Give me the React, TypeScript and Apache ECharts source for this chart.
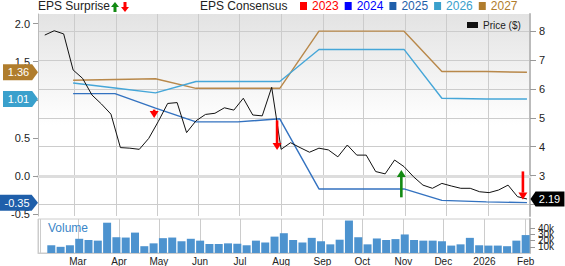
import React, { useEffect, useRef } from 'react';
import * as echarts from 'echarts';

const FONT = '"Liberation Sans", Arial, sans-serif';
const MONTHS = ['Jan', 'Feb', 'Mar', 'Apr', 'May', 'Jun', 'Jul', 'Aug', 'Sep', 'Oct', 'Nov', 'Dec'];

const toTime = (s: string) => {
  const [y, m, d] = s.split('-').map(Number);
  return new Date(y, m - 1, d).getTime();
};
const weekly = (start: string, n: number) => {
  const t0 = new Date(toTime(start));
  return Array.from({ length: n }, (_, i) => {
    const d = new Date(t0.getTime());
    d.setDate(d.getDate() + 7 * i);
    return d.getTime();
  });
};

// ---- data ----
const xMin = '2025-02-02';
const xMax = '2026-02-01';

const priceStart = '2025-02-07';
const priceValues = [
  7.87, 8.02, 7.91, 6.66, 6.37, 5.79, 5.48, 5.13, 3.97, 3.95, 3.91, 4.29, 4.87, 5.5, 5.53, 4.49,
  4.9, 5.12, 5.16, 5.35, 5.27, 5.68, 5.1, 5.07, 6.06, 3.91, 4.14, 3.97, 3.81, 3.95, 3.89, 3.65,
  4.06, 3.71, 3.71, 3.14, 3.06, 3.54, 3.31, 2.96, 2.67, 2.56, 2.73, 2.64, 2.56, 2.56, 2.44, 2.41,
  2.5, 2.67, 2.27, 2.19,
];

const volumeStart = '2025-02-09';
const volumeValues = [
  12500, 10000, 12500, 23000, 21000, 20000, 49000, 25500, 25000, 33000, 11000, 15600, 24000,
  25000, 19000, 23000, 20000, 14600, 14600, 15600, 15000, 12500, 20000, 17000, 26500, 32000,
  21000, 17000, 24500, 19000, 14000, 21500, 52500, 25500, 14000, 23500, 21000, 22500, 30000,
  21000, 20000, 20000, 19000, 12000, 14000, 24500, 12500, 12000, 12000, 11000, 20000, 29000,
];

const consensusDates = [
  '2025-02-28', '2025-03-31', '2025-04-30', '2025-05-30', '2025-06-30', '2025-07-31',
  '2025-08-29', '2025-09-30', '2025-10-31', '2025-11-28', '2025-12-31', '2026-01-30',
];
const eps2025 = [1.08, 1.08, 0.89, 0.71, 0.71, 0.75, -0.17, -0.17, -0.17, -0.32, -0.34, -0.35];
const eps2026 = [1.22, 1.155, 1.09, 1.24, 1.24, 1.24, 1.66, 1.66, 1.66, 1.02, 1.01, 1.01];
const eps2027 = [1.255, 1.265, 1.275, 1.15, 1.15, 1.15, 1.9, 1.9, 1.9, 1.37, 1.37, 1.36];

const missDates = ['2025-04-29', '2025-07-29', '2026-01-27'];
const missFrom = [0.87, 0.73, 0.06];
const missTo = [0.76, 0.34, -0.31];
const beatDates = ['2025-10-29'];
const beatFrom = [-0.28];
const beatTo = [0.08];

const epsTicks = [-0.5, 0, 0.5, 1, 1.5, 2];
const priceTicks = [2, 3, 4, 5, 6, 7, 8];
const priceLabelTicks = [3, 4, 5, 6, 7, 8];
const volumeTicks = [0, 10000, 20000, 30000, 40000, 50000];
const yearNames = ['2023', '2024', '2025', '2026', '2027'];
const yearColors = ['#ff0000', '#0000ff', '#1f5faa', '#3aa0cc', '#b07d2d'];
const lineColors = { '2025': '#3372c0', '2026': '#45a6d8', '2027': '#b8884a' };

export default function App() {
  const ref = useRef<HTMLDivElement>(null);

  useEffect(() => {
    document.body.style.margin = '0';
    if (!ref.current) return;
    const chart = echarts.init(ref.current, undefined, { renderer: 'svg' });

    const priceDates = weekly(priceStart, priceValues.length);
    const volumeDates = weekly(volumeStart, volumeValues.length);
    const cDates = consensusDates.map(toTime);
    const minT = toTime(xMin);
    const maxT = toTime(xMax);

    const leftBadge = (value: number, color: string, w: number) => ({
      symbol: 'path://M0,0H30L36,8L30,16H0Z',
      symbolSize: [w, 16],
      silent: true,
      label: {
        show: true,
        position: 'inside',
        offset: [-2, 0],
        color: '#fff',
        fontSize: 11,
        fontFamily: FONT,
        formatter: () => value.toFixed(2),
      },
      itemStyle: { color },
      data: [{ coord: [minT, value], symbolOffset: [-w / 2, 0] }],
    });

    const consensusSeries = (name: string, values: number[], badgeW: number, badgeColor: string) => ({
      name,
      type: 'line',
      xAxisIndex: 0,
      yAxisIndex: 0,
      symbol: 'none',
      clip: false,
      z: 3,
      data: cDates.map((t, i) => [t, values[i]]),
      lineStyle: { color: (lineColors as any)[name], width: 1.4 },
      itemStyle: { color: yearColors[yearNames.indexOf(name)] },
      markPoint: leftBadge(values[values.length - 1], badgeColor, badgeW),
    });

    const arrowRender = (params: any, api: any) => {
      const x = api.value(0);
      const p0 = api.coord([x, api.value(1)]);
      const p1 = api.coord([x, api.value(2)]);
      const dir = p1[1] > p0[1] ? 1 : -1;
      const head = 7;
      const hw = 4.5;
      const color = api.visual('color');
      return {
        type: 'group',
        children: [
          {
            type: 'line',
            shape: { x1: p0[0], y1: p0[1], x2: p1[0], y2: p1[1] - dir * head },
            style: { stroke: color, lineWidth: 2.6 },
          },
          {
            type: 'polygon',
            shape: {
              points: [
                [p1[0] - hw, p1[1] - dir * head],
                [p1[0] + hw, p1[1] - dir * head],
                [p1[0], p1[1]],
              ],
            },
            style: { fill: color },
          },
        ],
      };
    };

    const option: any = {
      animation: false,
      textStyle: { fontFamily: FONT },
      title: [
        {
          text: 'EPS Surprise',
          left: 38,
          top: 0,
          padding: 0,
          textStyle: { fontSize: 12, fontWeight: 'normal', color: '#222', fontFamily: FONT },
        },
        {
          text: 'EPS Consensus',
          left: 200,
          top: 0,
          padding: 0,
          textStyle: { fontSize: 12, fontWeight: 'normal', color: '#222', fontFamily: FONT },
        },
        {
          text: 'Volume',
          left: 48,
          top: 222,
          padding: 0,
          textStyle: { fontSize: 12, fontWeight: 'normal', color: '#3a86c8', fontFamily: FONT },
        },
      ],
      legend: [
        {
          left: 111,
          top: 2,
          padding: 0,
          itemGap: 2,
          itemWidth: 8,
          itemHeight: 10,
          selectedMode: false,
          formatter: () => '',
          data: [
            { name: 'Beat', icon: 'path://M4,0L8,5H5.5V10H2.5V5H0Z' },
            { name: 'Miss', icon: 'path://M2.5,0H5.5V5H8L4,10L0,5H2.5Z' },
          ],
        },
        {
          left: 300,
          top: 0,
          padding: 0,
          itemGap: 6,
          itemWidth: 7,
          itemHeight: 8,
          selectedMode: false,
          icon: 'rect',
          textStyle: { fontSize: 12, fontFamily: FONT },
          data: yearNames.map((n, i) => ({ name: n, textStyle: { color: yearColors[i] } })),
        },
        {
          left: 467,
          top: 20,
          padding: 0,
          itemWidth: 11,
          itemHeight: 6,
          selectedMode: false,
          icon: 'rect',
          textStyle: { fontSize: 10, color: '#222', fontFamily: FONT },
          data: ['Price ($)'],
        },
      ],
      grid: [
        {
          left: 38,
          top: 14,
          width: 492,
          height: 202,
          show: true,
          borderWidth: 0,
          backgroundColor: new echarts.graphic.LinearGradient(0, 0, 0, 1, [
            { offset: 0, color: '#e3e3e3' },
            { offset: 0.55, color: '#ffffff' },
            { offset: 1, color: '#ffffff' },
          ]),
        },
        {
          left: 38,
          top: 219,
          width: 492,
          height: 35,
          show: true,
          borderColor: '#cccccc',
          borderWidth: 1,
          backgroundColor: '#ffffff',
        },
      ],
      xAxis: [
        {
          type: 'time',
          gridIndex: 0,
          min: minT,
          max: maxT + 6 * 3600 * 1000,
          splitNumber: 12,
          minInterval: 28 * 86400000,
          maxInterval: 31 * 86400000,
          axisLabel: { show: false },
          axisTick: { show: false },
          axisLine: { show: true, lineStyle: { color: '#dddddd', width: 3 } },
          splitLine: { show: true, lineStyle: { color: '#cccccc', width: 1 } },
        },
        {
          type: 'time',
          gridIndex: 1,
          min: minT,
          max: maxT + 6 * 3600 * 1000,
          splitNumber: 12,
          minInterval: 28 * 86400000,
          maxInterval: 31 * 86400000,
          axisLabel: {
            show: true,
            fontSize: 10,
            color: '#222',
            margin: 3,
            fontFamily: FONT,
            hideOverlap: false,
            showMinLabel: false,
            formatter: (v: number) => {
              if (v - minT < 5 * 86400000) return '';
              const d = new Date(v);
              return d.getMonth() === 0 ? String(d.getFullYear()) : MONTHS[d.getMonth()];
            },
          },
          axisTick: { show: false },
          axisLine: { show: true, lineStyle: { color: '#cccccc' } },
          splitLine: { show: true, lineStyle: { color: '#cccccc', width: 1 } },
        },
      ],
      yAxis: [
        {
          type: 'value',
          gridIndex: 0,
          position: 'left',
          min: -0.525,
          max: 2.125,
          axisLine: { show: true, lineStyle: { color: '#bbbbbb' } },
          axisTick: { show: true, length: 5, customValues: epsTicks, lineStyle: { color: '#999' } },
          axisLabel: {
            customValues: epsTicks,
            fontSize: 11,
            color: '#222',
            margin: 8,
            fontFamily: FONT,
            formatter: (v: number) => v.toFixed(1),
          },
          splitLine: { show: false },
        },
        {
          type: 'value',
          gridIndex: 0,
          position: 'right',
          min: 1.6,
          max: 8.6,
          splitNumber: 7,
          axisLine: { show: true, lineStyle: { color: '#bbbbbb', width: 2 } },
          axisTick: { show: true, length: 6, customValues: priceTicks, lineStyle: { color: '#999' } },
          axisLabel: {
            customValues: priceLabelTicks,
            fontSize: 11,
            color: '#222',
            margin: 9,
            fontFamily: FONT,
          },
          splitLine: { show: true, lineStyle: { color: '#cccccc', width: 1 } },
        },
        {
          type: 'value',
          gridIndex: 1,
          position: 'right',
          min: 0,
          max: 55000,
          axisLine: { show: true, lineStyle: { color: '#bbbbbb', width: 2 } },
          axisTick: { show: true, length: 5, customValues: volumeTicks, lineStyle: { color: '#999' } },
          axisLabel: {
            customValues: volumeTicks,
            fontSize: 10,
            color: '#222',
            margin: 8,
            fontFamily: FONT,
            lineHeight: 8,
            formatter: (v: number) => (v === 0 ? '0' : v / 1000 + 'k'),
          },
          splitLine: { show: false },
        },
      ],
      series: [
        {
          name: 'Volume',
          type: 'bar',
          xAxisIndex: 1,
          yAxisIndex: 2,
          barWidth: 8,
          data: volumeDates.map((t, i) => [t, volumeValues[i]]),
          itemStyle: { color: '#4d93cf' },
        },
        { name: '2023', type: 'line', xAxisIndex: 0, yAxisIndex: 0, data: [], itemStyle: { color: yearColors[0] } },
        { name: '2024', type: 'line', xAxisIndex: 0, yAxisIndex: 0, data: [], itemStyle: { color: yearColors[1] } },
        consensusSeries('2027', eps2027, 35, '#b07d2d'),
        consensusSeries('2026', eps2026, 35, '#3aa0cc'),
        consensusSeries('2025', eps2025, 38, '#1f5faa'),
        {
          name: 'Price ($)',
          type: 'line',
          xAxisIndex: 0,
          yAxisIndex: 1,
          symbol: 'none',
          clip: false,
          z: 4,
          data: priceDates.map((t, i) => [t, priceValues[i]]),
          lineStyle: { color: '#111', width: 1 },
          itemStyle: { color: '#111' },
          markPoint: {
            symbol: 'path://M6,0H40V16H6L0,8Z',
            symbolSize: [34, 15],
            silent: true,
            itemStyle: { color: '#000' },
            label: {
              show: true,
              position: 'inside',
              offset: [2, 0],
              color: '#fff',
              fontSize: 11,
              fontFamily: FONT,
              formatter: () => priceValues[priceValues.length - 1].toFixed(2),
            },
            data: [
              {
                coord: [priceDates[priceDates.length - 1], priceValues[priceValues.length - 1]],
                symbolOffset: [20.5, 0],
              },
            ],
          },
        },
        {
          name: 'Miss',
          type: 'custom',
          xAxisIndex: 0,
          yAxisIndex: 0,
          z: 5,
          itemStyle: { color: '#ff0000' },
          renderItem: arrowRender,
          encode: { x: 0, y: [1, 2] },
          data: missDates.map((d, i) => [toTime(d), missFrom[i], missTo[i]]),
        },
        {
          name: 'Beat',
          type: 'custom',
          xAxisIndex: 0,
          yAxisIndex: 0,
          z: 5,
          itemStyle: { color: '#138a13' },
          renderItem: arrowRender,
          encode: { x: 0, y: [1, 2] },
          data: beatDates.map((d, i) => [toTime(d), beatFrom[i], beatTo[i]]),
        },
      ],
    };

    chart.setOption(option);
    return () => chart.dispose();
  }, []);

  return <div ref={ref} style={{ width: 565, height: 266 }} />;
}
